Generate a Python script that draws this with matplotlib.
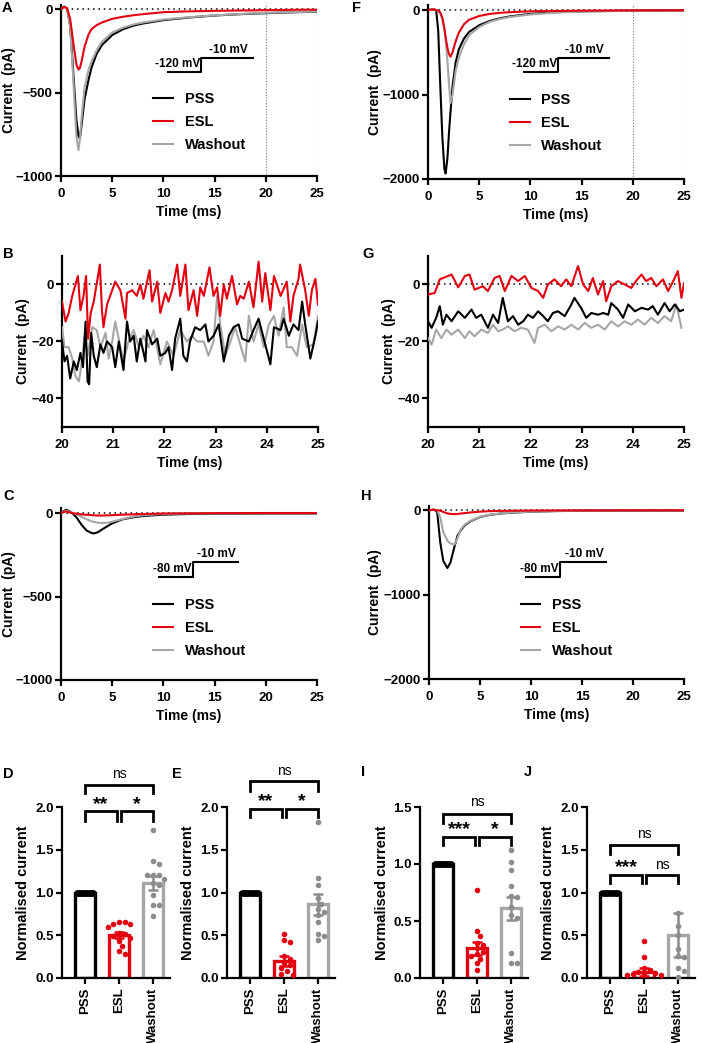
import matplotlib.pyplot as plt
import numpy as np

plt.rcParams['font.family'] = ['Liberation Sans', 'DejaVu Sans']
plt.rcParams['font.weight'] = 'bold'
plt.rcParams['axes.labelweight'] = 'bold'

# ---- traces, panel A (-120 mV, cell 1)
a_t = [0, 0.3, 0.6, 0.9, 1.2, 1.5, 1.7, 1.85, 2.0, 2.3, 2.7, 3.0, 3.5, 4.0,
       5, 6, 7, 8, 10, 12.5, 15, 17.5, 20, 22.5, 25]
a_pss = [0, 15, 5, -100, -380, -660, -760, -775, -700, -540, -420, -346, -265,
         -215, -155, -122, -100, -86, -66, -50, -38, -30, -24, -19, -15]
a_esl = [0, 15, 5, -60, -200, -330, -362, -352, -315, -225, -150, -118, -95,
         -80, -58, -46, -37, -30, -18, -13, -10, -8, -6, -4, -3]
a_wash = [0, 12, 3, -110, -420, -760, -845, -780, -660, -470, -360, -310, -245,
          -195, -140, -112, -93, -80, -62, -48, -37, -29, -22, -18, -14]

# ---- panel F (-120 mV, cell 2)
f_t = [0, 0.5, 0.8, 1.0, 1.2, 1.4, 1.6, 1.72, 1.9, 2.05, 2.2, 2.4, 2.7, 3.0,
       3.5, 4.0, 5, 6, 7, 8, 10, 12.5, 15, 20, 25]
f_pss = [0, 10, 0, -250, -900, -1500, -1880, -1935, -1750, -1450, -1200, -900,
         -620, -470, -340, -260, -180, -130, -98, -75, -45, -25, -15, -7, -4]
f_esl = [0, 8, 0, -5, -30, -90, -220, -320, -450, -520, -552, -500, -370, -270,
         -170, -115, -70, -46, -33, -25, -15, -10, -7, -4, -2]
f_wash = [0, 8, 0, -10, -40, -110, -220, -350, -600, -880, -1100, -1000, -720,
          -570, -410, -300, -200, -140, -105, -82, -52, -30, -18, -9, -5]

# ---- panel B (zoom of A tail)
b_pss_t = [20.00, 20.05, 20.10, 20.16, 20.23, 20.29, 20.36, 20.41, 20.46, 20.50,
           20.53, 20.57, 20.62, 20.68, 20.75, 20.81, 20.88, 20.98, 21.04, 21.11,
           21.20, 21.27, 21.33, 21.40, 21.46, 21.53, 21.63, 21.66, 21.76, 21.86,
           21.92, 22.02, 22.08, 22.15, 22.21, 22.31, 22.37, 22.44, 22.50, 22.60,
           22.70, 22.80, 22.86, 22.96, 23.06, 23.16, 23.26, 23.35, 23.45, 23.52,
           23.65, 23.74, 23.84, 23.94, 24.07, 24.14, 24.27, 24.33, 24.43, 24.52,
           24.62, 24.69, 24.75, 24.85, 24.95, 25.00]
b_pss = [-20, -27, -25, -33, -27, -30, -24, -29, -13, -34, -35, -17, -25, -29,
         -21, -24, -20, -22, -29, -20, -30, -13, -20, -18, -27, -19, -27, -16,
         -21, -19, -25, -24, -22, -30, -19, -12, -25, -27, -20, -15, -16, -14,
         -20, -18, -14, -27, -18, -15, -14, -19, -20, -16, -12, -19, -28, -15,
         -16, -12, -18, -14, -16, -6, -14, -26, -18, -13]
b_esl_t = [20.00, 20.07, 20.13, 20.20, 20.31, 20.36, 20.42, 20.47, 20.51, 20.56,
           20.62, 20.74, 20.78, 20.81, 20.88, 21.04, 21.14, 21.24, 21.27, 21.37,
           21.46, 21.53, 21.59, 21.71, 21.76, 21.86, 21.92, 22.02, 22.08, 22.15,
           22.25, 22.31, 22.41, 22.47, 22.57, 22.64, 22.70, 22.77, 22.88, 22.96,
           23.03, 23.09, 23.16, 23.22, 23.32, 23.42, 23.48, 23.55, 23.65, 23.74,
           23.84, 23.91, 23.97, 24.07, 24.14, 24.27, 24.39, 24.46, 24.52, 24.62,
           24.65, 24.75, 24.82, 24.88, 24.95, 25.00]
b_esl = [-6, -13, -10, -4, 3, -9, -4, 3, -19, -10, -6, 7, -9, -15, -7, 1, -2,
         -12, -3, -2, -4, 0, -5, 5, -6, 1, -10, -3, -6, -2, 7, -4, 7, -9, -2,
         -11, -1, -4, 6, -4, -1, -11, 0, -5, 3, -7, -4, -5, 1, -8, 8, -6, 4, -9,
         3, -4, 1, -13, -4, 2, 7, -2, -11, -2, 2, -7]
b_wash_t = [20.00, 20.05, 20.13, 20.20, 20.26, 20.33, 20.39, 20.44, 20.50, 20.59,
            20.68, 20.75, 20.85, 20.91, 20.98, 21.04, 21.14, 21.20, 21.30, 21.40,
            21.50, 21.59, 21.69, 21.79, 21.92, 22.05, 22.18, 22.31, 22.44, 22.54,
            22.64, 22.77, 22.86, 22.96, 23.03, 23.09, 23.19, 23.29, 23.38, 23.48,
            23.58, 23.65, 23.74, 23.84, 23.94, 24.04, 24.14, 24.23, 24.33, 24.39,
            24.49, 24.59, 24.69, 24.78, 24.91, 25.00]
b_wash = [-15, -22, -22, -26, -32, -34, -27, -18, -25, -15, -16, -22, -17, -26,
          -20, -13, -22, -27, -20, -16, -22, -18, -22, -16, -28, -20, -25, -16,
          -20, -18, -20, -20, -25, -20, -4, -14, -25, -20, -15, -21, -27, -11,
          -20, -14, -22, -14, -11, -18, -8, -22, -22, -25, -14, -22, -21, -11]

# ---- panel G (zoom of F tail)
g_esl_t = [20.00, 20.13, 20.23, 20.46, 20.59, 20.72, 20.81, 20.91, 21.07, 21.17,
           21.30, 21.40, 21.50, 21.63, 21.76, 21.89, 22.02, 22.15, 22.25, 22.34,
           22.47, 22.60, 22.70, 22.80, 22.93, 23.03, 23.13, 23.22, 23.32, 23.42,
           23.48, 23.58, 23.71, 23.84, 23.97, 24.07, 24.17, 24.26, 24.36, 24.46,
           24.59, 24.69, 24.79, 24.88, 24.95, 25.00]
g_esl = [-3.5, -3, 1.8, 3.5, -1, 3, 3.5, -1.8, -0.6, -2.3, 2.3, 3, -2.3, 3, 1.2,
         3, -1.2, -2.3, -4.7, 0, 1.8, -0.6, 1.8, -0.6, 6.5, 0, -2.3, 2.3, -3.5,
         1.2, -5.9, -0.6, 1.2, 0, -1.2, 1.4, 3.5, 1.2, 2.3, -0.6, 1.8, -2.3, 1.2,
         4.7, -4.7, 0.5]
g_pss_t = [20.00, 20.07, 20.16, 20.23, 20.29, 20.36, 20.46, 20.59, 20.72, 20.85,
           20.94, 21.04, 21.17, 21.27, 21.37, 21.46, 21.56, 21.66, 21.76, 21.86,
           21.95, 22.05, 22.15, 22.25, 22.34, 22.44, 22.54, 22.67, 22.80, 22.86,
           22.99, 23.09, 23.19, 23.32, 23.42, 23.52, 23.58, 23.71, 23.81, 23.91,
           24.04, 24.17, 24.30, 24.39, 24.49, 24.62, 24.72, 24.82, 24.92, 25.00]
g_pss = [-12.9, -15.2, -11.7, -7.6, -14.1, -10.6, -12.9, -9.4, -11.7, -8.8,
         -11.7, -10.6, -15.2, -10.6, -13.5, -4.7, -12.9, -11.1, -14.1, -12.9,
         -10.6, -11.7, -9.4, -11.1, -12.9, -10.0, -9.4, -11.1, -7.0, -4.7,
         -8.2, -11.7, -10.0, -10.6, -10.0, -10.6, -6.5, -8.8, -11.7, -7.0,
         -9.4, -8.2, -8.8, -7.6, -10.6, -6.5, -9.4, -7.0, -9.4, -8.8]
g_wash_t = [20.00, 20.07, 20.16, 20.26, 20.36, 20.46, 20.59, 20.72, 20.81, 20.91,
            21.04, 21.17, 21.27, 21.37, 21.46, 21.56, 21.69, 21.82, 21.95, 22.08,
            22.15, 22.28, 22.41, 22.54, 22.67, 22.80, 22.93, 23.06, 23.19, 23.32,
            23.45, 23.58, 23.71, 23.84, 23.97, 24.10, 24.23, 24.36, 24.49, 24.62,
            24.75, 24.85, 24.95]
g_wash = [-18.8, -21.1, -15.8, -18.8, -15.8, -17.6, -15.8, -18.8, -16.4, -18.2,
          -15.8, -17.0, -14.1, -16.4, -15.8, -14.7, -16.4, -15.2, -15.8, -20.5,
          -15.2, -14.1, -16.4, -14.7, -15.8, -14.1, -15.8, -13.5, -15.2, -14.1,
          -15.8, -12.9, -14.7, -12.9, -14.1, -12.3, -14.1, -11.7, -13.5, -11.1,
          -12.9, -7.0, -15.2]

# ---- panel C (-80 mV, cell 1)
c_t = [0, 0.5, 1.0, 1.5, 2.0, 2.5, 3.0, 3.25, 3.6, 4.1, 4.5, 5, 6, 7, 8, 10,
       12.5, 15, 20, 25]
c_pss = [0, 20, 5, -25, -70, -105, -120, -122, -115, -95, -80, -62, -38, -26,
         -18, -10, -6, -4, -3, -3]
c_esl = [0, 10, 0, -4, -8, -11, -13, -14, -15, -15, -14, -13, -10, -8, -6, -3,
         -2, -1, 0, 0]
c_wash = [0, 15, 3, -8, -22, -38, -50, -54, -58, -60, -58, -52, -36, -22, -13,
          -6, -3, -2, -1, -1]

# ---- panel H (-80 mV, cell 2)
h_t = [0, 0.5, 0.8, 1.1, 1.4, 1.8, 2.1, 2.5, 2.8, 3.1, 3.5, 4, 5, 6, 7, 8, 10,
       12.5, 15, 20, 25]
h_pss = [0, 8, -20, -380, -600, -685, -620, -430, -300, -240, -180, -135, -80,
         -55, -40, -30, -17, -10, -7, -5, -5]
h_esl = [0, 5, 0, -5, -20, -38, -44, -47, -44, -40, -34, -27, -17, -11, -8, -6,
         -4, -3, -2, -1, -1]
h_wash = [0, 6, -2, -80, -260, -360, -395, -406, -330, -230, -170, -130, -78,
          -53, -38, -28, -16, -9, -6, -4, -4]

# ---- normalised currents (bar panels)
groups = ['PSS', 'ESL', 'Washout']
d_esl = [0.65, 0.65, 0.63, 0.63, 0.60, 0.53, 0.51, 0.49, 0.47, 0.43, 0.37, 0.31, 0.28]
d_wash = [1.73, 1.37, 1.33, 1.21, 1.20, 1.20, 1.16, 1.11, 1.09, 0.97, 0.85, 0.85, 0.73]
d_mean = [1.0, 0.50, 1.11]
d_err = [0, 0.035, 0.08]
e_esl = [0.51, 0.44, 0.42, 0.26, 0.22, 0.18, 0.15, 0.12, 0.08, 0.05, 0.03]
e_wash = [1.82, 1.17, 1.09, 0.93, 0.87, 0.81, 0.77, 0.74, 0.65, 0.51, 0.49, 0.44]
e_mean = [1.0, 0.20, 0.86]
e_err = [0, 0.055, 0.12]
i_esl = [0.77, 0.41, 0.37, 0.31, 0.29, 0.26, 0.23, 0.21, 0.19, 0.17, 0.13, 0.07]
i_wash = [1.12, 1.02, 0.95, 0.81, 0.72, 0.71, 0.62, 0.55, 0.53, 0.22, 0.13, 0.13]
i_mean = [1.0, 0.26, 0.61]
i_err = [0, 0.06, 0.10]
j_esl = [0.43, 0.25, 0.12, 0.09, 0.07, 0.06, 0.05, 0.05, 0.04, 0.03]
j_wash = [0.76, 0.61, 0.50, 0.34, 0.26, 0.24, 0.12, 0.08, 0.01]
j_mean = [1.0, 0.07, 0.50]
j_err = [0, 0.05, 0.26]

BLACK = '#000000'
RED = '#e3000f'
GREY = '#a6a6a6'
GREY_PT = '#8c8c8c'

W, H = 702, 1043
fig = plt.figure(figsize=(W / 100, H / 100), dpi=100)


def px_axes(l, t, r, b):
    return fig.add_axes([l / W, 1 - b / H, (r - l) / W, (b - t) / H])


def style(ax):
    for s in ['top', 'right']:
        ax.spines[s].set_visible(False)
    for s in ['left', 'bottom']:
        ax.spines[s].set_linewidth(1.6)
    ax.tick_params(direction='out', length=4, width=1.6, labelsize=9.5)
    ax.tick_params(axis='y', pad=2)
    ax.tick_params(axis='x', pad=4.5)


def ylabel_px(ax, text, left, right, centre, size):
    # put the rotated label so that its centre sits at pixel column `centre`
    ax.set_ylabel(text, fontsize=size)
    ax.yaxis.set_label_coords((centre + 6.5 - left) / (right - left), 0.5)


def trace_panel(box, traces, ylim, yticks, xlim, xticks, ylab_x, vlines=False):
    ax = px_axes(*box)
    style(ax)
    ax.axhline(0, color='k', ls=(0, (1, 2.5)), lw=1.1, zorder=1)
    if vlines:
        for xv in (20, 25):
            ax.axvline(xv, color='#777777', ls=(0, (1, 1.5)), lw=0.8, zorder=1)
    lines = []
    for t, y, c, lab in traces:
        ln, = ax.plot(t, y, color=c, lw=1.5, label=lab, zorder=3)
        lines.append(ln)
    ax.set_xlim(*xlim)
    ax.set_ylim(*ylim)
    ax.set_xticks(xticks)
    ax.set_yticks(yticks)
    ax.set_xlabel('Time (ms)', fontsize=10, labelpad=4)
    ylabel_px(ax, 'Current  (pA)', box[0], box[2], ylab_x, 10)
    return ax, lines


def step_inset(ax, x0, x1, x2, y0, y1, hold):
    ax.plot([x0, x1, x1, x2], [y0, y0, y1, y1], color='k', lw=1.5,
            transform=ax.transAxes, clip_on=False)
    ax.text(x1 - 0.005, y0 + 0.012, hold, transform=ax.transAxes,
            ha='right', va='bottom', fontsize=8.5)
    ax.text((x1 + x2) / 2 + 0.005, y1 + 0.012, '-10 mV', transform=ax.transAxes,
            ha='center', va='bottom', fontsize=8.5)


def add_legend(ax, lines, x, y):
    ax.legend(lines, [l.get_label() for l in lines], loc='center left',
              bbox_to_anchor=(x, y), frameon=False, fontsize=10.5,
              handlelength=1.35, handletextpad=0.8, labelspacing=0.62,
              borderpad=0, borderaxespad=0)


# A
ax, ls = trace_panel((61, 5, 317, 176),
                     [(a_t, a_pss, BLACK, 'PSS'), (a_t, a_wash, GREY, 'Washout'),
                      (a_t, a_esl, RED, 'ESL')],
                     (-1000, 25), [0, -500, -1000], (0, 25), range(0, 26, 5), 9, vlines=True)
add_legend(ax, [ls[0], ls[2], ls[1]], 0.36, 0.316)
step_inset(ax, 0.418, 0.547, 0.75, 0.608, 0.69, '-120 mV')

# F
ax, ls = trace_panel((428, 5, 684, 179),
                     [(f_t, f_pss, BLACK, 'PSS'), (f_t, f_wash, GREY, 'Washout'),
                      (f_t, f_esl, RED, 'ESL')],
                     (-2000, 60), [0, -1000, -2000], (0, 25), range(0, 26, 5), 376, vlines=True)
add_legend(ax, [ls[0], ls[2], ls[1]], 0.32, 0.322)
step_inset(ax, 0.375, 0.508, 0.707, 0.615, 0.695, '-120 mV')

# B
ax, ls = trace_panel((62, 256, 318, 427),
                     [(b_wash_t, b_wash, GREY, 'Washout'), (b_pss_t, b_pss, BLACK, 'PSS'),
                      (b_esl_t, b_esl, RED, 'ESL')],
                     (-50, 10), [0, -20, -40], (20, 25), range(20, 26), 23)

# G
ax, ls = trace_panel((428, 256, 684, 427),
                     [(g_wash_t, g_wash, GREY, 'Washout'), (g_pss_t, g_pss, BLACK, 'PSS'),
                      (g_esl_t, g_esl, RED, 'ESL')],
                     (-50, 10), [0, -20, -40], (20, 25), range(20, 26), 390)

# C
ax, ls = trace_panel((61, 508, 317, 680),
                     [(c_t, c_pss, BLACK, 'PSS'), (c_t, c_wash, GREY, 'Washout'),
                      (c_t, c_esl, RED, 'ESL')],
                     (-1000, 30), [0, -500, -1000], (0, 25), range(0, 26, 5), 9)
add_legend(ax, [ls[0], ls[2], ls[1]], 0.36, 0.302)
step_inset(ax, 0.383, 0.516, 0.691, 0.599, 0.686, '-80 mV')

# H
ax, ls = trace_panel((429, 506, 684, 679),
                     [(h_t, h_pss, BLACK, 'PSS'), (h_t, h_wash, GREY, 'Washout'),
                      (h_t, h_esl, RED, 'ESL')],
                     (-2000, 50), [0, -1000, -2000], (0, 25), range(0, 26, 5), 375)
add_legend(ax, [ls[0], ls[2], ls[1]], 0.36, 0.295)
step_inset(ax, 0.38, 0.514, 0.694, 0.59, 0.676, '-80 mV')


def swarm(vals, ypx, xpx, diam=5.2):
    # simple beeswarm: place each point as close to centre as possible
    placed = []
    offs = []
    step = diam / xpx * 0.55
    for v in vals:
        k = 0
        while True:
            cand = [0] if k == 0 else [k * step, -k * step]
            ok = None
            for o in cand:
                if all(((o - po) * xpx) ** 2 + ((v - pv) * ypx) ** 2 >= diam ** 2
                       for po, pv in placed):
                    ok = o
                    break
            if ok is not None:
                placed.append((ok, v))
                offs.append(ok)
                break
            k += 1
    return np.array(offs)


def bar_panel(left, esl, wash, means, errs, ymax, yticks, brackets):
    ax = px_axes(left, 807, left + 108, 978)
    style(ax)
    ypx = 171 / ymax
    xpx = 34
    cols = [BLACK, RED, GREY]
    pcols = [BLACK, RED, GREY_PT]
    x = np.arange(3)
    ax.bar(x, means, width=0.59, color='white', edgecolor=cols, linewidth=2.4, zorder=2)
    n_pss = len(esl)
    ax.scatter(np.linspace(-0.24, 0.24, n_pss), np.ones(n_pss), s=14,
               color=BLACK, zorder=3, clip_on=False)
    for i, pts in ((1, esl), (2, wash)):
        ax.scatter(i + swarm(pts, ypx, xpx), pts, s=16, color=pcols[i],
                   zorder=3, clip_on=False, linewidths=0)
        ax.errorbar(i, means[i], yerr=errs[i], color=pcols[i],
                    capsize=3.5, elinewidth=1.8, capthick=1.8, zorder=4)
    ax.set_xlim(-0.68, 2.5)
    ax.set_ylim(0, ymax)
    ax.set_yticks(yticks)
    ax.set_yticklabels([f'{v:.1f}' for v in yticks])
    ax.set_xticks(x)
    ax.set_xticklabels(groups, rotation=90, fontsize=9.5)
    ax.tick_params(axis='x', pad=3)
    ylabel_px(ax, 'Normalised current', left, left + 108, left - 38, 10.5)
    for x0, x1, ytop, ybot, label, ty in brackets:
        ax.plot([x0, x0, x1, x1], [ybot, ytop, ytop, ybot], color='k', lw=2,
                clip_on=False, solid_joinstyle='miter')
        if label == 'ns':
            ax.text((x0 + x1) / 2, ty, label, ha='center', va='center',
                    fontsize=10, fontweight='normal')
        else:
            ax.text((x0 + x1) / 2, ty, label, ha='center', va='center',
                    fontsize=14, fontweight='bold')
    return ax


bar_panel(62, d_esl, d_wash, d_mean, d_err, 2.0, [0, 0.5, 1.0, 1.5, 2.0],
          [(0, 2, 2.26, 2.16, 'ns', 2.39), (0, 0.94, 1.95, 1.84, '**', 2.03),
           (1.06, 2, 1.95, 1.84, '*', 2.03)])
bar_panel(227, e_esl, e_wash, e_mean, e_err, 2.0, [0, 0.5, 1.0, 1.5, 2.0],
          [(0, 2, 2.30, 2.19, 'ns', 2.42), (0, 0.94, 1.98, 1.88, '**', 2.06),
           (1.06, 2, 1.98, 1.88, '*', 2.06)])
bar_panel(420, i_esl, i_wash, i_mean, i_err, 1.5, [0, 0.5, 1.0, 1.5],
          [(0, 2, 1.44, 1.36, 'ns', 1.54), (0, 0.94, 1.24, 1.17, '***', 1.30),
           (1.06, 2, 1.24, 1.17, '*', 1.30)])
bar_panel(587, j_esl, j_wash, j_mean, j_err, 2.0, [0, 0.5, 1.0, 1.5, 2.0],
          [(0, 2, 1.56, 1.45, 'ns', 1.69), (0, 0.94, 1.21, 1.11, '***', 1.29),
           (1.06, 2, 1.21, 1.11, 'ns', 1.32)])

# panel letters
for lab, px, py in [('A', 2, 8), ('F', 352, 8), ('B', 3, 254), ('G', 362, 254),
                    ('C', 3, 496), ('H', 361, 496), ('D', 3, 774), ('E', 172, 774),
                    ('I', 361, 772), ('J', 524, 772)]:
    fig.text(px / W, 1 - py / H, lab, fontsize=10.5, fontweight='bold',
             ha='left', va='center')

fig.savefig('out.png', dpi=100)
